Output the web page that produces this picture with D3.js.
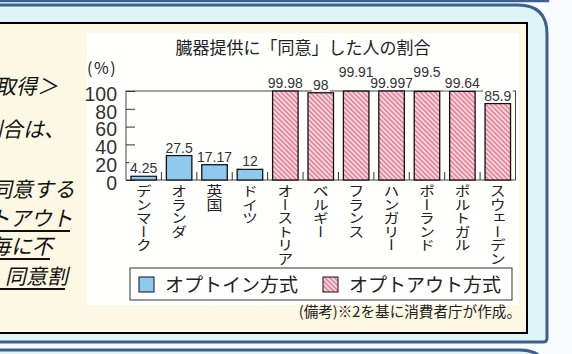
<!DOCTYPE html>
<html>
<head>
<meta charset="utf-8">
<script src="https://cdn.jsdelivr.net/npm/d3@7"></script>
<style>
  body { margin: 0; background: #f8fcfd; }
  svg { display: block; }
</style>
</head>
<body>
<svg id="chart"></svg>
<script>
// data
const countries = ['デンマーク', 'オランダ', '英国', 'ドイツ', 'オーストリア', 'ベルギー',
                   'フランス', 'ハンガリー', 'ポーランド', 'ポルトガル', 'スウェーデン'];
const values = [4.25, 27.5, 17.17, 12, 99.98, 98, 99.91, 99.997, 99.5, 99.64, 85.9];
const valueLabels = ['4.25', '27.5', '17.17', '12', '99.98', '98', '99.91', '99.997', '99.5', '99.64', '85.9'];
const systems = ['in', 'in', 'in', 'in', 'out', 'out', 'out', 'out', 'out', 'out', 'out'];
const yTicks = [0, 20, 40, 60, 80, 100];
const legendNames = { in: 'オプトイン方式', out: 'オプトアウト方式' };
const title = '臓器提供に「同意」した人の割合';
const note = '(備考)※2を基に消費者庁が作成。';

// body text fragments cut off at the left of the page
const bodyLines = [
  { text: '取得＞', underline: false },
  { text: '割合は、', underline: false },
  { text: '同意する', underline: false },
  { text: 'オプトアウト', underline: true },
  { text: '毎に不', underline: true },
  { text: '同意割', underline: true }
];

const width = 572, height = 354;
const blue = '#3d5e8e';
const cyan = '#dff4f7';
const cream = '#fdf8e4';

const svg = d3.select('#chart')
    .attr('width', width)
    .attr('height', height);

const defs = svg.append('defs');
const hatch = defs.append('pattern')
    .attr('id', 'hatch')
    .attr('patternUnits', 'userSpaceOnUse')
    .attr('width', 3.4)
    .attr('height', 3.4)
    .attr('patternTransform', 'rotate(-45)');
hatch.append('rect').attr('width', 3.4).attr('height', 3.4).attr('fill', '#fbdde4');
hatch.append('rect').attr('width', 1.8).attr('height', 3.4).attr('fill', '#e6879d');

const fillFor = s => s === 'in' ? '#8fc9ee' : 'url(#hatch)';

// page frames
svg.append('rect')
    .attr('x', -20).attr('y', -60)
    .attr('width', 568).attr('height', 61)
    .attr('fill', cyan).attr('stroke', blue).attr('stroke-width', 2.5);

svg.append('path')
    .attr('d', 'M-20,5 H518 Q547,5 547,34 V338 Q547,342 543,342 H-20 Z')
    .attr('fill', cyan).attr('stroke', blue).attr('stroke-width', 3);

svg.append('path')
    .attr('d', 'M-20,420 V350 H520 Q547,350 547,377 V420 Z')
    .attr('fill', cyan).attr('stroke', blue).attr('stroke-width', 3);

svg.append('rect')
    .attr('x', -10).attr('y', 23)
    .attr('width', 537).attr('height', 310)
    .attr('fill', cream).attr('stroke', '#000').attr('stroke-width', 2);

svg.append('rect')
    .attr('x', 87).attr('y', 33)
    .attr('width', 432).attr('height', 272)
    .attr('fill', '#fffffe');

// body text, slanted like the page's italic
const bodyY = [94, 137, 197, 226, 254, 284];
const bodyRight = [58, 65, 75, 73, 53, 68];
const body = svg.append('g')
    .attr('font-family', '"Noto Sans CJK JP", sans-serif')
    .attr('font-size', 21)
    .attr('fill', '#111');
bodyLines.forEach((l, i) => {
  body.append('text')
      .attr('transform', `translate(${bodyRight[i]},${bodyY[i]}) skewX(-13)`)
      .attr('text-anchor', 'end')
      .text(l.text);
  if (l.underline) {
    body.append('line')
        .attr('x1', 0).attr('x2', bodyRight[i] - 3)
        .attr('y1', bodyY[i] + 5).attr('y2', bodyY[i] + 5)
        .attr('stroke', '#111').attr('stroke-width', 1.8);
  }
});

// chart
const x = d3.scaleBand()
    .domain(countries)
    .range([126, 515.5])
    .paddingInner(0.28)
    .paddingOuter(0.14);

const y = d3.scaleLinear()
    .domain([0, 100])
    .range([180, 91]);

svg.append('text')
    .attr('x', 303).attr('y', 54)
    .attr('text-anchor', 'middle')
    .attr('font-family', '"Noto Sans CJK JP", sans-serif')
    .attr('font-size', 17)
    .attr('fill', '#222')
    .text(title);

svg.append('text')
    .attr('x', 87).attr('y', 74)
    .attr('font-family', '"Noto Sans CJK JP", sans-serif')
    .attr('font-size', 16)
    .attr('letter-spacing', 1.5)
    .attr('fill', '#222')
    .text('(%)');

// frame of the plot
const [x0, x1] = x.range();
svg.append('rect')
    .attr('x', x0).attr('y', y(100))
    .attr('width', x1 - x0).attr('height', y(0) - y(100))
    .attr('fill', 'none').attr('stroke', '#444').attr('stroke-width', 1);

const yAxis = svg.append('g')
    .attr('transform', `translate(${x0},0)`)
    .call(d3.axisLeft(y).tickValues(yTicks).tickSizeInner(-9).tickSizeOuter(0).tickPadding(9));
yAxis.select('.domain').remove();
yAxis.selectAll('line').attr('stroke', '#333');
yAxis.selectAll('text')
    .attr('font-family', '"Liberation Sans Narrow", sans-serif')
    .attr('font-size', 19.5)
    .attr('fill', '#333')
    .attr('dy', 9.3);

// small separators on the baseline
const seps = countries.slice(1).map(c => x(c) - x.step() * x.paddingInner() / 2);
svg.append('g')
    .selectAll('line')
    .data(seps)
    .join('line')
    .attr('x1', d => d).attr('x2', d => d)
    .attr('y1', y(0) - 8).attr('y2', y(0))
    .attr('stroke', '#333');

// bars
svg.append('g')
    .selectAll('rect')
    .data(countries)
    .join('rect')
    .attr('x', d => x(d))
    .attr('y', (d, i) => y(values[i]))
    .attr('width', x.bandwidth())
    .attr('height', (d, i) => y(0) - y(values[i]))
    .attr('fill', (d, i) => fillFor(systems[i]))
    .attr('stroke', '#111')
    .attr('stroke-width', 1.3);

// value labels (two of them lifted so they don't collide)
const lifted = new Set(['フランス', 'ポーランド']);
const labels = svg.append('g')
    .attr('font-family', '"Liberation Sans Narrow", sans-serif')
    .attr('font-size', 14)
    .attr('fill', '#333');
countries.forEach((c, i) => {
  const g = labels.append('g');
  const t = g.append('text')
      .attr('x', x(c) + x.bandwidth() / 2)
      .attr('y', y(values[i]) - 3 - (lifted.has(c) ? 11 : 0))
      .attr('text-anchor', 'middle')
      .text(valueLabels[i]);
  const b = t.node().getBBox();
  g.insert('rect', 'text')
      .attr('x', b.x - 1).attr('y', b.y + 2)
      .attr('width', b.width + 2).attr('height', b.height - 3)
      .attr('fill', '#fff');
});

// vertical country names
svg.append('g')
    .selectAll('text')
    .data(countries)
    .join('text')
    .attr('transform', d => `translate(${x(d) + x.bandwidth() / 2},184) scale(1,0.85)`)
    .style('writing-mode', 'vertical-rl')
    .attr('font-family', '"Noto Sans CJK JP", sans-serif')
    .attr('font-size', 16)
    .attr('fill', '#222')
    .text(d => d);

// legend
svg.append('rect')
    .attr('x', 130).attr('y', 268)
    .attr('width', 382).attr('height', 32)
    .attr('fill', '#fff').attr('stroke', '#333').attr('stroke-width', 1);

const legendKeys = ['in', 'out'];
const legendX = [139, 323];
const legend = svg.append('g')
    .selectAll('g')
    .data(legendKeys)
    .join('g')
    .attr('transform', (d, i) => `translate(${legendX[i]},277)`);
legend.append('rect')
    .attr('width', 15).attr('height', 15)
    .attr('fill', d => fillFor(d))
    .attr('stroke', '#111').attr('stroke-width', 1);
legend.append('text')
    .attr('x', 26).attr('y', 15)
    .attr('font-family', '"Noto Sans CJK JP", sans-serif')
    .attr('font-size', 19)
    .attr('fill', '#222')
    .text(d => legendNames[d]);

svg.append('text')
    .attr('x', 521).attr('y', 317)
    .attr('text-anchor', 'end')
    .attr('font-family', '"Noto Sans CJK JP", sans-serif')
    .attr('font-size', 14.6)
    .attr('fill', '#222')
    .text(note);
</script>
</body>
</html>
